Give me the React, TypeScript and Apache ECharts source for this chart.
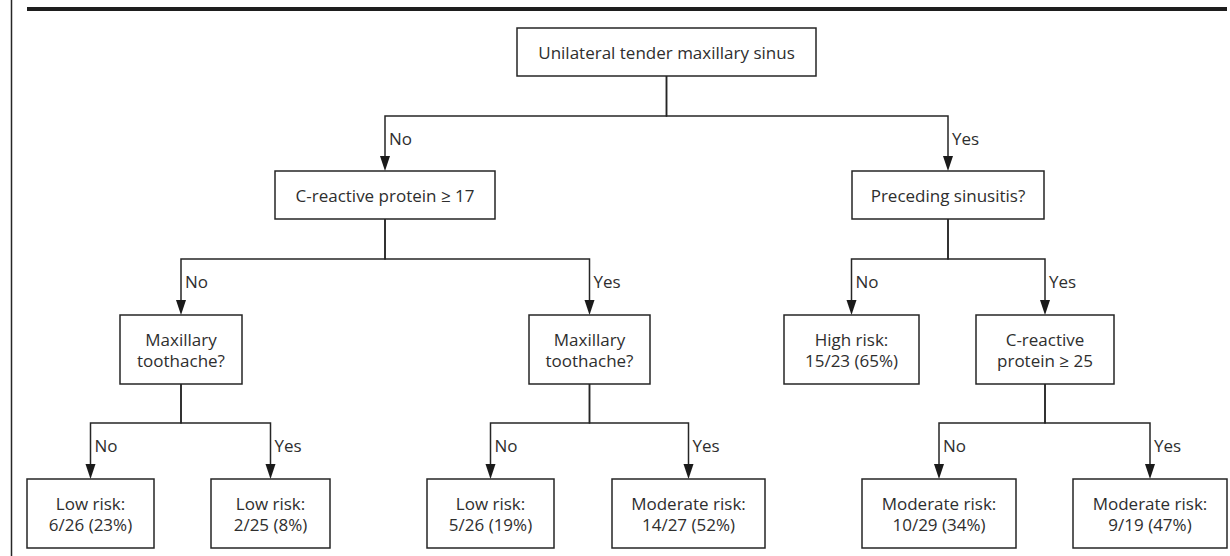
import React, { useEffect, useRef } from "react";
import * as echarts from "echarts";

// ---- Data: decision tree content ----
const nodeTexts: string[] = [
  "Unilateral tender maxillary sinus",
  "C-reactive protein \u2265 17",
  "Preceding sinusitis?",
  "Maxillary\ntoothache?",
  "Maxillary\ntoothache?",
  "High risk:\n15/23 (65%)",
  "C-reactive\nprotein \u2265 25",
  "Low risk:\n6/26 (23%)",
  "Low risk:\n2/25 (8%)",
  "Low risk:\n5/26 (19%)",
  "Moderate risk:\n14/27 (52%)",
  "Moderate risk:\n10/29 (34%)",
  "Moderate risk:\n9/19 (47%)",
];
const nodeLevel: number[] = [0, 1, 1, 2, 2, 2, 2, 3, 3, 3, 3, 3, 3];
const edgeFrom: number[] = [0, 0, 1, 1, 2, 2, 3, 3, 4, 4, 6, 6];
const edgeTo: number[] = [1, 2, 3, 4, 5, 6, 7, 8, 9, 10, 11, 12];
const edgeLabels: string[] = ["No", "Yes", "No", "Yes", "No", "Yes", "No", "Yes", "No", "Yes", "No", "Yes"];

// ---- Layout (positions / sizes) ----
const nodeCx: number[] = [666.5, 385, 948, 181, 589.5, 851.5, 1045, 90.5, 270.5, 490.5, 688.5, 939, 1150];
const nodeW: number[] = [299, 220, 192, 122, 121, 135, 138, 127, 119, 127, 153, 154, 154];
const levelTop: number[] = [28, 171, 315, 479];
const levelH: number[] = [48, 48, 69, 69];
const branchY: number[] = [116, 259, 423];

const FONT = '"Open Sans", "Noto Sans", "DejaVu Sans", sans-serif';
const TEXT_COLOR = "#2e2e2e";
const LINE_COLOR = "#262626";

export default function App() {
  const ref = useRef<HTMLDivElement>(null);

  useEffect(() => {
    document.body.style.margin = "0";
    if (!ref.current) return;
    const chart = echarts.init(ref.current, undefined, { renderer: "svg" });

    const nodeData = nodeTexts.map((_, i) => [nodeCx[i], levelTop[nodeLevel[i]], i]);
    const edgeData = edgeFrom.map((f, i) => [nodeCx[edgeTo[i]], branchY[nodeLevel[f]], i]);

    const option: any = {
      animation: false,
      backgroundColor: "#ffffff",
      grid: { left: 0, right: 0, top: 0, bottom: 0 },
      xAxis: { type: "value", min: 0, max: 1230, show: false },
      yAxis: { type: "value", min: 0, max: 556, inverse: true, show: false },
      graphic: [
        {
          type: "line",
          shape: { x1: 11.5, y1: 0, x2: 11.5, y2: 556 },
          style: { stroke: LINE_COLOR, lineWidth: 1.5 },
        },
        {
          type: "line",
          shape: { x1: 27, y1: 9, x2: 1227, y2: 9 },
          style: { stroke: "#1e1e1e", lineWidth: 4 },
        },
      ],
      series: [
        {
          type: "custom",
          coordinateSystem: "cartesian2d",
          encode: { x: 0, y: 1 },
          data: edgeData,
          silent: true,
          z: 1,
          renderItem: (params: any, api: any) => {
            const i = api.value(2);
            const f = edgeFrom[i];
            const t = edgeTo[i];
            const lf = nodeLevel[f];
            const lt = nodeLevel[t];
            const pTop = api.coord([nodeCx[f], levelTop[lf] + levelH[lf]]);
            const pBranch = api.coord([nodeCx[f], branchY[lf]]);
            const cBranch = api.coord([nodeCx[t], branchY[lf]]);
            const cTop = api.coord([nodeCx[t], levelTop[lt]]);
            const arrowH = 15;
            const arrowHalf = 5;
            return {
              type: "group",
              children: [
                {
                  type: "polyline",
                  shape: {
                    points: [pTop, pBranch, cBranch, [cTop[0], cTop[1] - arrowH + 1]],
                  },
                  style: { stroke: LINE_COLOR, lineWidth: 1.5, fill: null },
                },
                {
                  type: "polygon",
                  shape: {
                    points: [
                      [cTop[0] - arrowHalf, cTop[1] - arrowH],
                      [cTop[0] + arrowHalf, cTop[1] - arrowH],
                      [cTop[0], cTop[1]],
                    ],
                  },
                  style: { fill: "#1a1a1a" },
                },
                {
                  type: "text",
                  style: {
                    text: edgeLabels[i],
                    x: cBranch[0] + 4,
                    y: cBranch[1] + 22.5,
                    fill: TEXT_COLOR,
                    fontSize: 17,
                    fontFamily: FONT,
                    align: "left",
                    verticalAlign: "middle",
                  },
                },
              ],
            };
          },
        },
        {
          type: "custom",
          coordinateSystem: "cartesian2d",
          encode: { x: 0, y: 1 },
          data: nodeData,
          silent: true,
          z: 2,
          renderItem: (params: any, api: any) => {
            const i = api.value(2);
            const lv = nodeLevel[i];
            const p0 = api.coord([nodeCx[i] - nodeW[i] / 2, levelTop[lv]]);
            const p1 = api.coord([nodeCx[i] + nodeW[i] / 2, levelTop[lv] + levelH[lv]]);
            return {
              type: "group",
              children: [
                {
                  type: "rect",
                  shape: { x: p0[0], y: p0[1], width: p1[0] - p0[0], height: p1[1] - p0[1] },
                  style: { fill: "#ffffff", stroke: LINE_COLOR, lineWidth: 1.5 },
                },
                {
                  type: "text",
                  style: {
                    text: nodeTexts[i],
                    x: (p0[0] + p1[0]) / 2,
                    y: (p0[1] + p1[1]) / 2,
                    fill: TEXT_COLOR,
                    fontSize: 17,
                    fontFamily: FONT,
                    lineHeight: 21,
                    align: "center",
                    verticalAlign: "middle",
                  },
                },
              ],
            };
          },
        },
      ],
    };

    chart.setOption(option);
    return () => chart.dispose();
  }, []);

  return <div ref={ref} style={{ width: 1230, height: 556 }} />;
}
